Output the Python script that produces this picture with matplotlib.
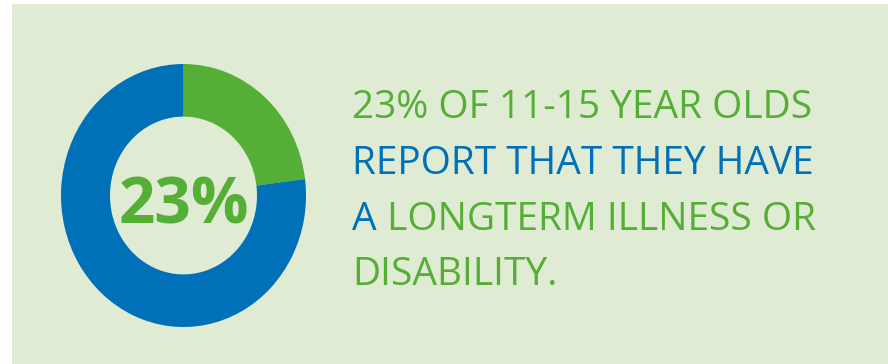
import matplotlib.pyplot as plt
from matplotlib.patches import Rectangle

# share of 11-15 year olds with a longterm illness or disability
share = 23
values = [share, 100 - share]
ring_colors = ["#55ae36", "#0070b8"]

green = "#55ae36"
blue = "#0070b8"
panel = "#dfebd2"

# statement lines, each a list of (text, colour) runs
lines = [
    [("23% OF 11-15 YEAR OLDS", green)],
    [("REPORT THAT THEY HAVE", blue)],
    [("A", blue), (" LONGTERM ILLNESS OR", green)],
    [("DISABILITY.", green)],
]

W, H = 888, 364
fig = plt.figure(figsize=(W / 100, H / 100), dpi=100)
fig.patch.set_facecolor("white")

def fx(px):
    return px / W

def fy(py):
    return 1 - py / H

# light green panel
fig.patches.append(Rectangle((fx(12), 0), 1 - fx(12), fy(4), transform=fig.transFigure,
                             facecolor=panel, edgecolor="none", zorder=-1))

# donut
ax = fig.add_axes([fx(61), fy(327), fx(306) - fx(61), fy(64) - fy(327)])
ax.set_zorder(1)
ax.pie(values, colors=ring_colors, startangle=90, counterclock=False,
       radius=1, wedgeprops=dict(width=0.4, edgecolor="none"))
ax.set_aspect("auto")
ax.set_xlim(-1, 1)
ax.set_ylim(-1, 1)
ax.axis("off")

font = "Open Sans"
fig.text(fx(183.5), fy(224), f"{share}%", ha="center", va="baseline",
         color=green, fontsize=46, fontweight="bold", family=font, zorder=2)

renderer = fig.canvas.get_renderer()
baselines = [118, 174, 230, 285]
for runs, base in zip(lines, baselines):
    x = fx(352)
    for txt, col in runs:
        t = fig.text(x, fy(base), txt, ha="left", va="baseline", color=col,
                     fontsize=28, family=font, zorder=2)
        ext = t.get_window_extent(renderer)
        x += ext.width / W

fig.savefig("out.png", dpi=100, facecolor=fig.get_facecolor())
